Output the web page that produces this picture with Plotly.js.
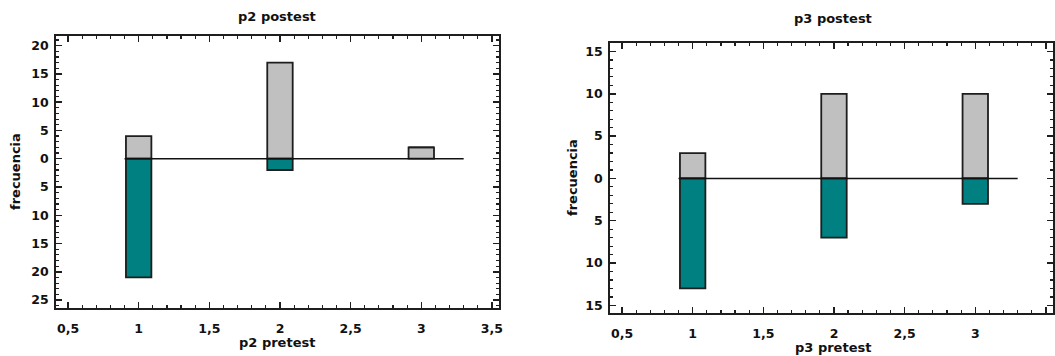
<!DOCTYPE html>
<html>
<head>
<meta charset="utf-8">
<script src="https://cdn.plot.ly/plotly-3.0.1.min.js"></script>
<style>
  html, body { margin: 0; padding: 0; background: #ffffff; }
  #chart { width: 1055px; height: 356px; }
</style>
</head>
<body>
<div id="chart"></div>
<script>
// ---- data ----
const categories = [1, 2, 3];
const p2Postest = [4, 17, 2];     // upward (gray)
const p2Pretest = [21, 2, 0];     // downward (teal)
const p3Postest = [3, 10, 10];
const p3Pretest = [13, 7, 3];
const xTickVals = [0.5, 1, 1.5, 2, 2.5, 3, 3.5];
const xTickText = ['0,5', '1', '1,5', '2', '2,5', '3', '3,5'];
const p2YTickVals = [-25, -20, -15, -10, -5, 0, 5, 10, 15, 20];
const p2YTickText = ['25', '20', '15', '10', '5', '0', '5', '10', '15', '20'];
const p3YTickVals = [-15, -10, -5, 0, 5, 10, 15];
const p3YTickText = ['15', '10', '5', '0', '5', '10', '15'];
const baselineX = [0.9, 3.3];
const baselineY = [0, 0];

// ---- style ----
const GRAY = '#c0c0c0';
const TEAL = '#008080';
const EDGE = '#1e1e1e';
const FONT = 'DejaVu Sans, Arial, sans-serif';
const BAR_W = 0.18;

function bars(y, color, xa, ya) {
  return {
    type: 'bar', x: categories, y: y, width: BAR_W,
    marker: { color: color, line: { color: EDGE, width: 1.8 } },
    xaxis: xa, yaxis: ya, hoverinfo: 'skip', showlegend: false
  };
}
function baseline(xa, ya) {
  return {
    type: 'scatter', mode: 'lines', x: baselineX, y: baselineY,
    line: { color: '#111', width: 1.5 }, xaxis: xa, yaxis: ya,
    hoverinfo: 'skip', showlegend: false
  };
}

const traces = [
  bars(p2Postest, GRAY, 'x', 'y'),
  bars(p2Pretest.map(v => -v), TEAL, 'x', 'y'),
  baseline('x', 'y'),
  bars(p3Postest, GRAY, 'x2', 'y2'),
  bars(p3Pretest.map(v => -v), TEAL, 'x2', 'y2'),
  baseline('x2', 'y2')
];

const tickFont = { family: FONT, size: 12.5, weight: 'bold', color: '#111' };
function xAxis(domain, anchor, standoff) {
  return {
    domain: domain, anchor: anchor, range: [0.415, 3.55],
    tickmode: 'array', tickvals: xTickVals, ticktext: xTickText,
    ticks: 'inside', ticklen: 6, tickwidth: 1.5, tickcolor: EDGE,
    minor: { tickmode: 'linear', tick0: 0, dtick: 0.1, ticks: 'inside', ticklen: 3, tickwidth: 1.2, tickcolor: EDGE },
    mirror: 'allticks', showline: true, linewidth: 1.8, linecolor: EDGE,
    showgrid: false, zeroline: false, tickfont: tickFont, ticklabelstandoff: standoff,
    fixedrange: true
  };
}
function yAxis(domain, anchor, range, vals, text) {
  return {
    domain: domain, anchor: anchor, range: range,
    tickmode: 'array', tickvals: vals, ticktext: text,
    ticks: 'inside', ticklen: 6, tickwidth: 1.5, tickcolor: EDGE,
    minor: { tickmode: 'linear', tick0: 0, dtick: 1, ticks: 'inside', ticklen: 3, tickwidth: 1.2, tickcolor: EDGE },
    mirror: 'allticks', showline: true, linewidth: 1.8, linecolor: EDGE,
    showgrid: false, zeroline: false, tickfont: tickFont, ticklabelstandoff: 3,
    fixedrange: true
  };
}

const W = 1055, H = 356;
const titleFont = { family: FONT, size: 13, weight: 'bold', color: '#111' };
function ann(text, xpx, ypx, angle) {
  return {
    text: text, xref: 'paper', yref: 'paper', x: xpx / W, y: 1 - ypx / H,
    xanchor: 'center', yanchor: 'middle', showarrow: false,
    textangle: angle || 0, font: titleFont
  };
}

const layout = {
  width: W, height: H,
  margin: { l: 0, r: 0, t: 0, b: 0, pad: 0 },
  paper_bgcolor: '#ffffff', plot_bgcolor: '#ffffff',
  barmode: 'relative', showlegend: false,
  xaxis: xAxis([56 / W, 499 / W], 'y', 8),
  yaxis: yAxis([1 - 308 / H, 1 - 36 / H], 'x', [-26.4, 21.7], p2YTickVals, p2YTickText),
  xaxis2: xAxis([610 / W, 1053 / W], 'y2', 8),
  yaxis2: yAxis([1 - 313 / H, 1 - 43 / H], 'x2', [-15.9, 16.0], p3YTickVals, p3YTickText),
  annotations: [
    ann('p2 postest', 277, 16),
    ann('p2 pretest', 277, 342),
    ann('frecuencia', 15, 172, -90),
    ann('p3 postest', 833, 18),
    ann('p3 pretest', 833, 347),
    ann('frecuencia', 572, 178, -90)
  ]
};

Plotly.newPlot('chart', traces, layout, { displayModeBar: false, staticPlot: true });
</script>
</body>
</html>
